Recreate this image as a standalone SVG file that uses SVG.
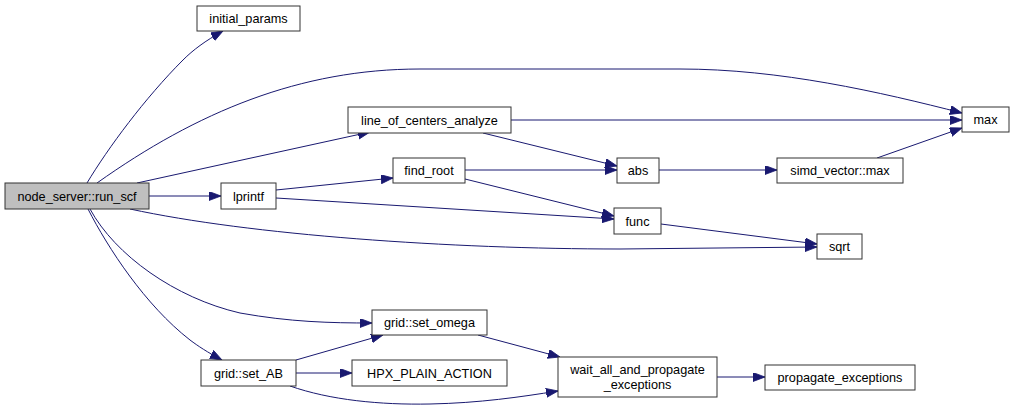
<svg xmlns="http://www.w3.org/2000/svg" width="1015" height="410" viewBox="0 0 1015 410">
<style>
.n rect{fill:#ffffff;stroke:#333333;stroke-width:1}
.n.root rect{fill:#bfbfbf}
.n text{font-family:"Liberation Sans",Arial,sans-serif;font-size:12.7px;fill:#000;text-anchor:middle}
.e path{fill:none;stroke:#191970;stroke-width:1;marker-end:url(#ah)}
</style>
<defs>
<marker id="ah" markerUnits="userSpaceOnUse" markerWidth="14" markerHeight="10" refX="12" refY="4.5" orient="auto">
<path d="M0,0 L12,4.5 L0,9 z" fill="#191970" stroke="#191970" stroke-width="0.8"/>
</marker>
</defs>
<rect width="1015" height="410" fill="#ffffff"/>
<g id="edges" class="e">
<path d="M87,183 C108,148 145,98 183,60 C193,50 205,41 223,31"/>
<path d="M97,183 C197,112 300,69 420,69 L680,69 C780,69 880,92 962,113"/>
<path d="M137,183 L370,132"/>
<path d="M149,196 L221,196"/>
<path d="M130,209 C250,235 450,249 620,249 L817,247"/>
<path d="M90,209 C115,255 175,298 240,313 C290,322 330,323 372,323"/>
<path d="M88,209 C108,248 145,305 190,340 C198,346 207,352 222,360"/>
<path d="M276,190 L393,178"/>
<path d="M276,198 L614,219"/>
<path d="M511,120 L962,120"/>
<path d="M483,133 L617,166"/>
<path d="M465,170 L617,170"/>
<path d="M465,179 L614,216"/>
<path d="M659,170 L777,170"/>
<path d="M877,158 L962,128"/>
<path d="M661,224 L817,244"/>
<path d="M296,360 L383,335"/>
<path d="M296,373 L352,373"/>
<path d="M290,386 C330,400 380,405 430,404 C480,403 520,397 558,391"/>
<path d="M478,335 L560,357"/>
<path d="M717,377 L765,377"/>
</g>
<g id="node_run_scf" class="n root"><rect x="5" y="183" width="144" height="26"/><text x="77" y="200.5">node_server::run_scf</text></g>
<g id="node_initial_params" class="n"><rect x="197" y="6" width="103" height="25"/><text x="248.5" y="23">initial_params</text></g>
<g id="node_lprintf" class="n"><rect x="221" y="183" width="55" height="26"/><text x="248.5" y="200.5">lprintf</text></g>
<g id="node_loc" class="n"><rect x="348" y="107" width="163" height="26"/><text x="429.5" y="124.5">line_of_centers_analyze</text></g>
<g id="node_find_root" class="n"><rect x="393" y="158" width="72" height="25"/><text x="429" y="175">find_root</text></g>
<g id="node_abs" class="n"><rect x="617" y="158" width="42" height="25"/><text x="638" y="175">abs</text></g>
<g id="node_func" class="n"><rect x="614" y="208" width="47" height="26"/><text x="637.5" y="225.5">func</text></g>
<g id="node_max" class="n"><rect x="962" y="107" width="47" height="25"/><text x="985.5" y="124">max</text></g>
<g id="node_simd_max" class="n"><rect x="777" y="158" width="126" height="25"/><text x="840" y="175">simd_vector::max</text></g>
<g id="node_sqrt" class="n"><rect x="817" y="234" width="45" height="25"/><text x="839.5" y="251">sqrt</text></g>
<g id="node_set_omega" class="n"><rect x="372" y="310" width="115" height="25"/><text x="429.5" y="327">grid::set_omega</text></g>
<g id="node_set_AB" class="n"><rect x="201" y="360" width="95" height="26"/><text x="248.5" y="377.5">grid::set_AB</text></g>
<g id="node_hpx" class="n"><rect x="352" y="360" width="155" height="26"/><text x="429.5" y="377.5">HPX_PLAIN_ACTION</text></g>
<g id="node_wait_all" class="n"><rect x="558" y="357" width="159" height="40"/><text x="637.5" y="373.5">wait_all_and_propagate</text><text x="637.5" y="388.5">_exceptions</text></g>
<g id="node_propagate" class="n"><rect x="765" y="365" width="150" height="25"/><text x="840" y="382">propagate_exceptions</text></g>
</svg>
